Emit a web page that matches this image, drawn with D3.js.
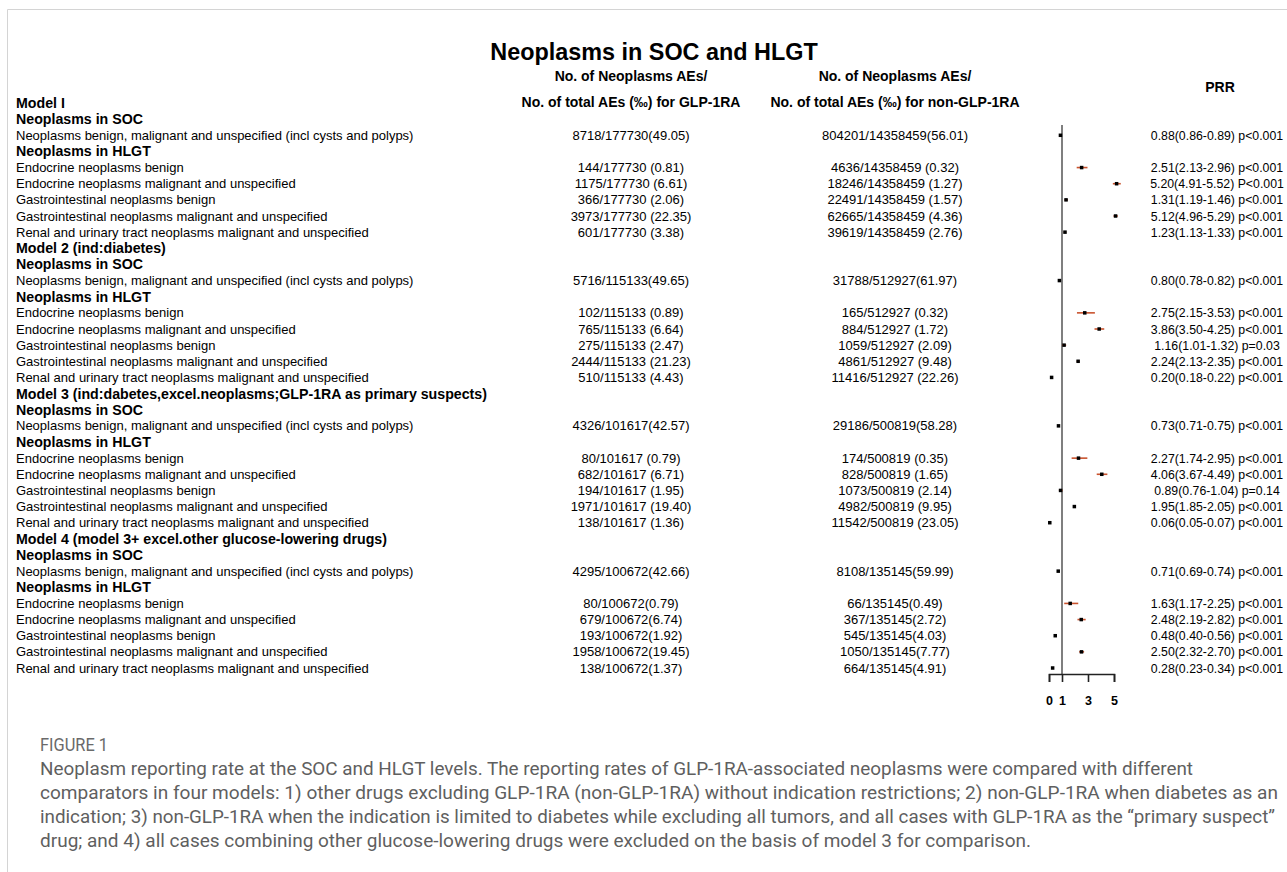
<!DOCTYPE html>
<html>
<head>
<meta charset="utf-8">
<script src="https://cdn.jsdelivr.net/npm/d3@7"></script>
<style>
  html, body { margin: 0; padding: 0; background: #fff; }
  svg { display: block; }
</style>
</head>
<body>
<svg id="fig" width="1287" height="872"></svg>
<script>
// ---- Data -----------------------------------------------------------
const models = [
  "Model I",
  "Model 2 (ind:diabetes)",
  "Model 3 (ind:dabetes,excel.neoplasms;GLP-1RA as primary suspects)",
  "Model 4 (model 3+ excel.other glucose-lowering drugs)"
];
const terms = [
  "Neoplasms benign, malignant and unspecified (incl cysts and polyps)",
  "Endocrine neoplasms benign",
  "Endocrine neoplasms malignant and unspecified",
  "Gastrointestinal neoplasms benign",
  "Gastrointestinal neoplasms malignant and unspecified",
  "Renal and urinary tract neoplasms malignant and unspecified"
];
// GLP-1RA: neoplasm AEs, total AEs, rate (‰)
const glpCases  = [[8718, 144, 1175, 366, 3973, 601],
                   [5716, 102, 765, 275, 2444, 510],
                   [4326, 80, 682, 194, 1971, 138],
                   [4295, 80, 679, 193, 1958, 138]];
const glpTotals = [177730, 115133, 101617, 100672];
const glpRates  = [["49.05", "0.81", "6.61", "2.06", "22.35", "3.38"],
                   ["49.65", "0.89", "6.64", "2.47", "21.23", "4.43"],
                   ["42.57", "0.79", "6.71", "1.95", "19.40", "1.36"],
                   ["42.66", "0.79", "6.74", "1.92", "19.45", "1.37"]];
// non-GLP-1RA: neoplasm AEs, total AEs, rate (‰)
const nonCases  = [[804201, 4636, 18246, 22491, 62665, 39619],
                   [31788, 165, 884, 1059, 4861, 11416],
                   [29186, 174, 828, 1073, 4982, 11542],
                   [8108, 66, 367, 545, 1050, 664]];
const nonTotals = [14358459, 512927, 500819, 135145];
const nonRates  = [["56.01", "0.32", "1.27", "1.57", "4.36", "2.76"],
                   ["61.97", "0.32", "1.72", "2.09", "9.48", "22.26"],
                   ["58.28", "0.35", "1.65", "2.14", "9.95", "23.05"],
                   ["59.99", "0.49", "2.72", "4.03", "7.77", "4.91"]];
// separator before the rate in HLGT rows, per model
const rateGap = [" ", " ", " ", ""];
// PRR with 95% CI and p value
const prr     = [[0.88, 2.51, 5.20, 1.31, 5.12, 1.23],
                 [0.80, 2.75, 3.86, 1.16, 2.24, 0.20],
                 [0.73, 2.27, 4.06, 0.89, 1.95, 0.06],
                 [0.71, 1.63, 2.48, 0.48, 2.50, 0.28]];
const prrLow  = [[0.86, 2.13, 4.91, 1.19, 4.96, 1.13],
                 [0.78, 2.15, 3.50, 1.01, 2.13, 0.18],
                 [0.71, 1.74, 3.67, 0.76, 1.85, 0.05],
                 [0.69, 1.17, 2.19, 0.40, 2.32, 0.23]];
const prrHigh = [[0.89, 2.96, 5.52, 1.46, 5.29, 1.33],
                 [0.82, 3.53, 4.25, 1.32, 2.35, 0.22],
                 [0.75, 2.95, 4.49, 1.04, 2.05, 0.07],
                 [0.74, 2.25, 2.82, 0.56, 2.70, 0.34]];
const pLabels = [["p<0.001", "p<0.001", "P<0.001", "p<0.001", "p<0.001", "p<0.001"],
                 ["p<0.001", "p<0.001", "p<0.001", "p=0.03", "p<0.001", "p<0.001"],
                 ["p<0.001", "p<0.001", "p<0.001", "p=0.14", "p<0.001", "p<0.001"],
                 ["p<0.001", "p<0.001", "p<0.001", "p<0.001", "p<0.001", "p<0.001"]];
const axisTicks = [0, 1, 3, 5];

const title = "Neoplasms in SOC and HLGT";
const captionTitle = "FIGURE 1";
const captionLines = [
  "Neoplasm reporting rate at the SOC and HLGT levels. The reporting rates of GLP-1RA-associated neoplasms were compared with different",
  "comparators in four models: 1) other drugs excluding GLP-1RA (non-GLP-1RA) without indication restrictions; 2) non-GLP-1RA when diabetes as an",
  "indication; 3) non-GLP-1RA when the indication is limited to diabetes while excluding all tumors, and all cases with GLP-1RA as the \u201cprimary suspect\u201d",
  "drug; and 4) all cases combining other glucose-lowering drugs were excluded on the basis of model 3 for comparison."
];
const captionWidths = [1153, 1238, 1235, 991];

// ---- Rows of the table ---------------------------------------------
const rows = [];
models.forEach((name, m) => {
  rows.push({ kind: "model", text: name });
  rows.push({ kind: "group", text: "Neoplasms in SOC" });
  rows.push({ kind: "data", m, k: 0 });
  rows.push({ kind: "group", text: "Neoplasms in HLGT" });
  for (let k = 1; k < terms.length; k++) rows.push({ kind: "data", m, k });
});

const svg = d3.select("#fig");
const FONT = "'Liberation Sans', Arial, Helvetica, sans-serif";

// card frame
svg.append("path")
  .attr("d", "M7.5,872 V9.5 H1287")
  .attr("fill", "none").attr("stroke", "#d4d4d4").attr("stroke-width", 1);

const y = d3.scalePoint().domain(d3.range(rows.length)).range([103, 668]);
const x = d3.scaleLinear().domain([0, 5]).range([1049, 1114]);

const colGlp = 631, colNon = 895, colPrr = 1217;

// title and column headers
svg.append("text").attr("x", 654).attr("y", 60).attr("text-anchor", "middle")
  .attr("font-family", FONT).attr("font-weight", "bold").attr("font-size", 23.4)
  .text(title);

const headers = [
  { x: colGlp, lines: ["No. of Neoplasms AEs/", "No. of total AEs (\u2030) for GLP-1RA"] },
  { x: colNon, lines: ["No. of Neoplasms AEs/", "No. of total AEs (\u2030) for non-GLP-1RA"] }
];
headers.forEach(h => {
  h.lines.forEach((t, i) => {
    svg.append("text").attr("x", h.x).attr("y", 81 + i * 26)
      .attr("text-anchor", "middle").attr("font-family", FONT)
      .attr("font-weight", "bold").attr("font-size", 14).text(t);
  });
});
svg.append("text").attr("x", 1220).attr("y", 92).attr("text-anchor", "middle")
  .attr("font-family", FONT).attr("font-weight", "bold").attr("font-size", 14)
  .text("PRR");

// row labels
const table = svg.append("g").attr("font-family", FONT).attr("fill", "#000");
table.selectAll("text.label").data(rows).join("text")
  .attr("class", "label")
  .attr("x", 16)
  .attr("y", (d, i) => y(i) + (d.kind === "data" ? 4.5 : 5))
  .attr("font-size", d => d.kind === "data" ? 13 : 14.2)
  .attr("font-weight", d => d.kind === "data" ? "normal" : "bold")
  .text(d => d.kind === "data" ? terms[d.k] : d.text);

const dataRows = rows.map((d, i) => ({ ...d, i })).filter(d => d.kind === "data");
const gap = d => (d.k === 0 ? "" : rateGap[d.m]);

table.selectAll("text.glp").data(dataRows).join("text")
  .attr("class", "glp").attr("x", colGlp).attr("y", d => y(d.i) + 4.5)
  .attr("text-anchor", "middle").attr("font-size", 13)
  .text(d => `${glpCases[d.m][d.k]}/${glpTotals[d.m]}${gap(d)}(${glpRates[d.m][d.k]})`);

table.selectAll("text.non").data(dataRows).join("text")
  .attr("class", "non").attr("x", colNon).attr("y", d => y(d.i) + 4.5)
  .attr("text-anchor", "middle").attr("font-size", 13)
  .text(d => `${nonCases[d.m][d.k]}/${nonTotals[d.m]}${gap(d)}(${nonRates[d.m][d.k]})`);

table.selectAll("text.prr").data(dataRows).join("text")
  .attr("class", "prr").attr("x", colPrr).attr("y", d => y(d.i) + 4.5)
  .attr("text-anchor", "middle").attr("font-size", 12.3)
  .text(d => `${prr[d.m][d.k].toFixed(2)}(${prrLow[d.m][d.k].toFixed(2)}-${prrHigh[d.m][d.k].toFixed(2)}) ${pLabels[d.m][d.k]}`);

// forest plot
const axisY = 674;
svg.append("line")
  .attr("x1", x(1)).attr("x2", x(1)).attr("y1", 125).attr("y2", axisY)
  .attr("stroke", "#555").attr("stroke-width", 1.5);

const forest = svg.append("g");
forest.selectAll("line.ci").data(dataRows).join("line")
  .attr("class", "ci")
  .attr("x1", d => x(prrLow[d.m][d.k])).attr("x2", d => x(prrHigh[d.m][d.k]))
  .attr("y1", d => y(d.i)).attr("y2", d => y(d.i))
  .attr("stroke", "#c9532e").attr("stroke-width", 1.6);
forest.selectAll("rect.pt").data(dataRows).join("rect")
  .attr("class", "pt")
  .attr("x", d => x(prr[d.m][d.k]) - 1.75).attr("y", d => y(d.i) - 1.75)
  .attr("width", 3.5).attr("height", 3.5).attr("fill", "#000");

const axis = d3.axisBottom(x).tickValues(axisTicks).tickSize(8).tickSizeOuter(8)
  .tickPadding(14).tickFormat(d3.format("d"));
const axisG = svg.append("g").attr("transform", `translate(0,${axisY})`).call(axis);
axisG.selectAll("path, line").attr("stroke", "#222").attr("stroke-width", 1.6);
axisG.selectAll("text").attr("font-family", FONT).attr("font-size", 12.5)
  .attr("font-weight", "bold").attr("fill", "#000");

// caption
const cap = svg.append("g").attr("font-family", "'Roboto', 'Open Sans', sans-serif")
  .attr("fill", "#5f5f5f");
cap.append("text").attr("x", 40).attr("y", 751).attr("font-size", 18)
  .attr("textLength", 68).attr("lengthAdjust", "spacingAndGlyphs")
  .attr("fill", "#6a6a6a").text(captionTitle);
cap.selectAll("text.cl").data(captionLines).join("text")
  .attr("class", "cl").attr("x", 40).attr("y", (d, i) => 775 + i * 24)
  .attr("font-size", 18)
  .attr("textLength", (d, i) => captionWidths[i]).attr("lengthAdjust", "spacingAndGlyphs")
  .text(d => d);
</script>
</body>
</html>
